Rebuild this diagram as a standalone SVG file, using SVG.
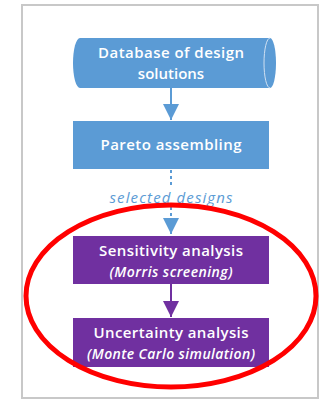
<svg xmlns="http://www.w3.org/2000/svg" width="320" height="400" viewBox="0 0 320 400">
<defs>
<style>
.frame{fill:#ffffff;stroke:#c8c8c8;stroke-width:2}
.blue{fill:#5b9bd5}
.purple{fill:#7030a0}
.t{font-family:"Open Sans","Liberation Sans",sans-serif;font-size:15px;font-weight:600;fill:#ffffff;text-anchor:middle}
.ti{font-family:"Open Sans","Liberation Sans",sans-serif;font-size:14px;font-weight:600;font-style:italic;fill:#ffffff;text-anchor:middle}
.lbl{font-family:"Open Sans","Liberation Sans",sans-serif;font-size:15px;font-style:italic;fill:#5b9bd5;text-anchor:middle}
.cb{stroke:#5b9bd5;stroke-width:2;fill:none}
.cbd{stroke:#5b9bd5;stroke-width:2;fill:none;stroke-dasharray:3 3}
.cp{stroke:#7030a0;stroke-width:2;fill:none}
</style>
<marker id="ab" markerWidth="16" markerHeight="16" viewBox="0 0 16 16" refX="16" refY="8" orient="auto" markerUnits="userSpaceOnUse"><path d="M0,0 L16,8 L0,16 Z" fill="#5b9bd5"/></marker>
<marker id="ap" markerWidth="16" markerHeight="16" viewBox="0 0 16 16" refX="16" refY="8" orient="auto" markerUnits="userSpaceOnUse"><path d="M0,0 L16,8 L0,16 Z" fill="#7030a0"/></marker>
</defs>
<rect class="frame" x="22" y="5" width="296" height="393"/>
<g id="connectors">
<line class="cb" x1="171" y1="88" x2="171" y2="120" marker-end="url(#ab)"/>
<line class="cbd" x1="171" y1="170" x2="171" y2="187"/>
<line class="cbd" x1="171" y1="207" x2="171" y2="234" marker-end="url(#ab)"/>
<text class="lbl" x="171" y="203" textLength="123" lengthAdjust="spacing">selected designs</text>
<line class="cp" x1="171" y1="284" x2="171" y2="317" marker-end="url(#ap)"/>
</g>
<g id="database">
<path class="blue" d="M80,38 L270,38 A6,25 0 0 1 270,88 L80,88 A7,25 0 0 1 80,38 Z"/>
<path d="M270,38 A6,25 0 0 0 270,88" fill="none" stroke="#cfe0f2" stroke-width="1"/>
<text class="t" x="171" y="58" textLength="146" lengthAdjust="spacing">Database of design</text>
<text class="t" x="171" y="79">solutions</text>
</g>
<g id="pareto">
<rect class="blue" x="73" y="121" width="196" height="48"/>
<text class="t" x="171" y="150" textLength="141" lengthAdjust="spacing">Pareto assembling</text>
</g>
<g id="sensitivity">
<rect class="purple" x="73" y="236" width="196" height="48"/>
<text class="t" x="171" y="256" textLength="144" lengthAdjust="spacing">Sensitivity analysis</text>
<text class="ti" x="171" y="277" textLength="123" lengthAdjust="spacing">(Morris screening)</text>
</g>
<g id="uncertainty">
<rect class="purple" x="73" y="318" width="196" height="49"/>
<text class="t" x="171" y="338" textLength="155" lengthAdjust="spacing">Uncertainty analysis</text>
<text class="ti" x="171" y="359" textLength="168" lengthAdjust="spacing">(Monte Carlo simulation)</text>
</g>
<ellipse cx="171" cy="296" rx="145" ry="91" fill="none" stroke="#ff0000" stroke-width="5"/>
</svg>
